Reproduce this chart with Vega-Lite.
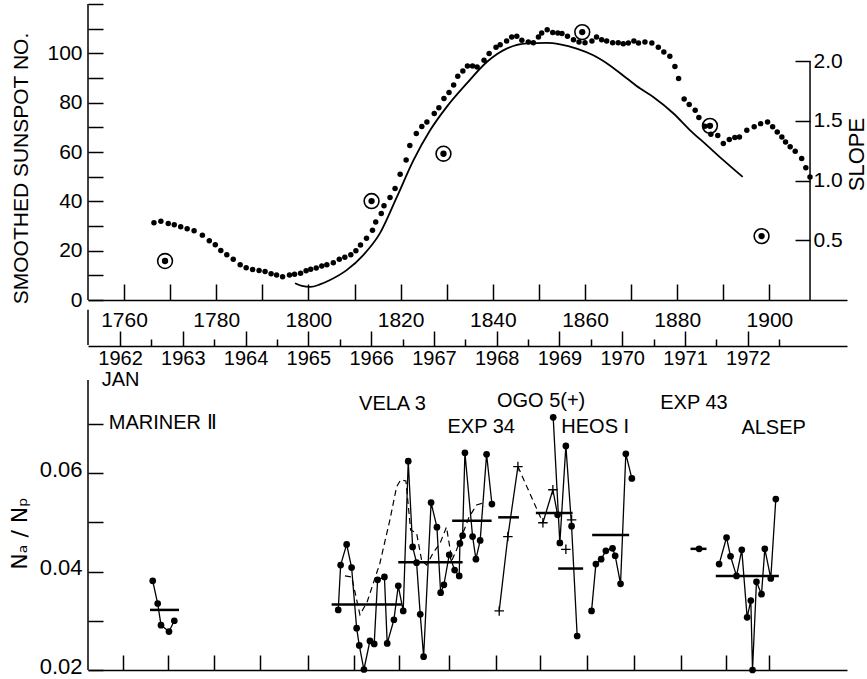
{
  "$schema": "https://vega.github.io/schema/vega-lite/v6.json",
  "width": 759,
  "height": 666,
  "autosize": {"type": "none"},
  "padding": {"left": 88, "top": 4, "right": 20, "bottom": 9},
  "background": "white",
  "datasets": {
    "spots": [
      {"yr":1766.5,"S":31.3},{"yr":1768.0,"S":31.9},{"yr":1769.6,"S":31.0},{"yr":1770.9,"S":30.5},{"yr":1772.3,"S":29.7},{"yr":1773.7,"S":28.9},{"yr":1775.2,"S":28.1},{"yr":1777.0,"S":26.3},{"yr":1778.5,"S":24.0},{"yr":1779.8,"S":22.4},{"yr":1781.0,"S":20.1},{"yr":1782.3,"S":18.3},{"yr":1783.7,"S":16.5},{"yr":1785.2,"S":14.3},{"yr":1786.5,"S":13.1},{"yr":1787.9,"S":12.4},{"yr":1789.3,"S":12.0},{"yr":1790.6,"S":11.6},{"yr":1791.9,"S":10.6},{"yr":1793.1,"S":10.1},{"yr":1794.4,"S":9.4},{"yr":1795.9,"S":10.1},{"yr":1797.0,"S":10.4},{"yr":1798.3,"S":10.8},{"yr":1799.5,"S":11.9},{"yr":1800.5,"S":12.5},{"yr":1801.7,"S":13.0},{"yr":1802.9,"S":13.8},{"yr":1804.0,"S":14.3},{"yr":1805.4,"S":15.1},{"yr":1806.7,"S":16.5},{"yr":1807.9,"S":17.3},{"yr":1809.2,"S":18.3},{"yr":1810.3,"S":20.0},{"yr":1811.3,"S":22.3},{"yr":1812.6,"S":25.0},{"yr":1813.9,"S":28.3},{"yr":1814.6,"S":31.6},{"yr":1815.8,"S":35.1},{"yr":1816.4,"S":38.2},{"yr":1817.7,"S":41.6},{"yr":1818.8,"S":45.2},{"yr":1819.9,"S":51.0},{"yr":1821.2,"S":56.8},{"yr":1822.0,"S":62.6},{"yr":1823.4,"S":67.5},{"yr":1824.6,"S":70.3},{"yr":1825.7,"S":72.2},{"yr":1827.3,"S":75.6},{"yr":1828.3,"S":77.9},{"yr":1829.4,"S":81.7},{"yr":1830.5,"S":84.1},{"yr":1831.5,"S":87.2},{"yr":1832.4,"S":90.7},{"yr":1833.5,"S":92.8},{"yr":1834.5,"S":94.9},{"yr":1835.6,"S":94.9},{"yr":1836.6,"S":94.5},{"yr":1838.1,"S":97.2},{"yr":1839.2,"S":99.9},{"yr":1840.7,"S":102.5},{"yr":1841.6,"S":103.5},{"yr":1843.0,"S":105.0},{"yr":1844.1,"S":106.6},{"yr":1845.2,"S":106.9},{"yr":1846.3,"S":105.3},{"yr":1847.7,"S":104.6},{"yr":1848.8,"S":104.3},{"yr":1849.9,"S":106.6},{"yr":1850.6,"S":108.2},{"yr":1851.8,"S":109.6},{"yr":1853.0,"S":108.4},{"yr":1854.1,"S":108.2},{"yr":1855.0,"S":108.0},{"yr":1856.2,"S":106.9},{"yr":1857.5,"S":105.5},{"yr":1858.7,"S":104.6},{"yr":1860.0,"S":104.3},{"yr":1861.5,"S":105.0},{"yr":1862.5,"S":106.6},{"yr":1863.6,"S":105.5},{"yr":1864.7,"S":105.0},{"yr":1866.0,"S":104.3},{"yr":1867.2,"S":104.3},{"yr":1868.3,"S":103.9},{"yr":1869.4,"S":104.2},{"yr":1870.6,"S":105.0},{"yr":1871.6,"S":104.2},{"yr":1873.0,"S":104.6},{"yr":1874.5,"S":104.2},{"yr":1875.9,"S":102.5},{"yr":1877.1,"S":100.5},{"yr":1878.4,"S":98.8},{"yr":1879.5,"S":94.7},{"yr":1880.3,"S":89.8},{"yr":1881.5,"S":81.5},{"yr":1882.6,"S":79.3},{"yr":1883.9,"S":76.9},{"yr":1884.7,"S":74.0},{"yr":1886.0,"S":70.4},{"yr":1887.3,"S":67.2},{"yr":1888.8,"S":66.7},{"yr":1890.0,"S":63.4},{"yr":1891.3,"S":65.1},{"yr":1892.5,"S":65.9},{"yr":1893.5,"S":66.1},{"yr":1895.1,"S":68.8},{"yr":1896.7,"S":70.2},{"yr":1898.1,"S":71.5},{"yr":1899.6,"S":72.2},{"yr":1900.7,"S":70.2},{"yr":1901.7,"S":68.1},{"yr":1902.7,"S":66.1},{"yr":1903.5,"S":64.1},{"yr":1904.5,"S":62.1},{"yr":1905.6,"S":60.3},{"yr":1907.0,"S":57.4},{"yr":1907.9,"S":53.6},{"yr":1908.8,"S":49.9}
    ],
    "curve": [
      {"yr":1797.1,"S":6.8},{"yr":1798.6,"S":5.7},{"yr":1800.4,"S":5.3},{"yr":1802.5,"S":6.3},{"yr":1804.7,"S":8.1},{"yr":1808.3,"S":12.1},{"yr":1811.9,"S":18.2},{"yr":1815.5,"S":27.0},{"yr":1819.2,"S":41.8},{"yr":1822.8,"S":56.7},{"yr":1826.4,"S":68.8},{"yr":1830.0,"S":78.3},{"yr":1834.3,"S":87.7},{"yr":1838.7,"S":96.5},{"yr":1843.0,"S":101.9},{"yr":1847.4,"S":104.0},{"yr":1851.7,"S":104.2},{"yr":1854.6,"S":103.6},{"yr":1858.2,"S":101.9},{"yr":1861.8,"S":99.2},{"yr":1865.4,"S":95.1},{"yr":1869.1,"S":89.8},{"yr":1871.9,"S":85.8},{"yr":1874.8,"S":82.3},{"yr":1879.2,"S":75.6},{"yr":1882.8,"S":68.8},{"yr":1886.4,"S":62.8},{"yr":1890.0,"S":56.7},{"yr":1894.2,"S":49.9}
    ],
    "circ": [
      {"yr":1768.9,"S":15.8},{"yr":1813.7,"S":40.1},{"yr":1829.3,"S":59.3},{"yr":1859.4,"S":108.6},{"yr":1887.1,"S":70.6},{"yr":1898.3,"S":25.9}
    ],
    "axA": [
      {"yr":1752.19,"S":0,"S2":120},{"yr":1752.19,"S":-4,"S2":-18.2}
    ],
    "pts": [
      {"t":1962.521,"v":0.0381,"s":"MAR","m":"d","k":1},{"t":1962.600,"v":0.0335,"s":"MAR","m":"d","k":2},{"t":1962.653,"v":0.0291,"s":"MAR","m":"d","k":3},{"t":1962.780,"v":0.0278,"s":"MAR","m":"d","k":4},{"t":1962.865,"v":0.0300,"s":"MAR","m":"d","k":5},
      {"t":1965.476,"v":0.0322,"s":"VE","m":"d","k":6},{"t":1965.514,"v":0.0413,"s":"VE","m":"d","k":7},{"t":1965.610,"v":0.0455,"s":"VE","m":"d","k":8},{"t":1965.689,"v":0.0408,"s":"VE","m":"d","k":9},{"t":1965.769,"v":0.0285,"s":"VE","m":"d","k":10},{"t":1965.811,"v":0.0250,"s":"VE","m":"d","k":11},{"t":1965.885,"v":0.0201,"s":"VE","m":"d","k":12},{"t":1965.981,"v":0.0259,"s":"VE","m":"d","k":13},{"t":1966.049,"v":0.0253,"s":"VE","m":"d","k":14},{"t":1966.103,"v":0.0383,"s":"VE","m":"d","k":15},{"t":1966.212,"v":0.0389,"s":"VE","m":"d","k":16},{"t":1966.256,"v":0.0254,"s":"VE","m":"d","k":17},{"t":1966.363,"v":0.0302,"s":"VE","m":"d","k":18},{"t":1966.432,"v":0.0371,"s":"VE","m":"d","k":19},{"t":1966.511,"v":0.0320,"s":"VE","m":"d","k":20},{"t":1966.591,"v":0.0624,"s":"VE","m":"d","k":21},{"t":1966.661,"v":0.0450,"s":"VE","m":"d","k":22},{"t":1966.724,"v":0.0418,"s":"VE","m":"d","k":23},{"t":1966.782,"v":0.0313,"s":"VE","m":"d","k":24},{"t":1966.836,"v":0.0227,"s":"VE","m":"d","k":25},{"t":1966.955,"v":0.0540,"s":"VE","m":"d","k":26},{"t":1967.048,"v":0.0490,"s":"VE","m":"d","k":27},{"t":1967.107,"v":0.0357,"s":"VE","m":"d","k":28},{"t":1967.159,"v":0.0373,"s":"VE","m":"d","k":29},{"t":1967.244,"v":0.0434,"s":"VE","m":"d","k":30},{"t":1967.330,"v":0.0403,"s":"VE","m":"d","k":31},{"t":1967.403,"v":0.0391,"s":"VE","m":"d","k":32},{"t":1967.414,"v":0.0457,"s":"VE","m":"d","k":33},{"t":1967.457,"v":0.0473,"s":"VE","m":"d","k":34},{"t":1967.494,"v":0.0641,"s":"VE","m":"d","k":35},{"t":1967.616,"v":0.0471,"s":"VE","m":"d","k":36},{"t":1967.669,"v":0.0425,"s":"VE","m":"d","k":37},{"t":1967.737,"v":0.0463,"s":"VE","m":"d","k":38},{"t":1967.839,"v":0.0638,"s":"VE","m":"d","k":39},{"t":1967.924,"v":0.0537,"s":"VE","m":"d","k":40},
      {"t":1968.040,"v":0.0320,"s":"OGa","m":"p","k":41},{"t":1968.178,"v":0.0471,"s":"OGa","m":"p","k":42},{"t":1968.338,"v":0.0613,"s":"OGa","m":"p","k":43},
      {"t":1968.736,"v":0.0499,"s":"OGb","m":"p","k":44},{"t":1968.895,"v":0.0566,"s":"OGb","m":"p","k":45},{"t":1968.970,"v":0.0515,"s":"OGb","m":"d","k":46},
      {"t":1969.102,"v":0.0445,"s":"o1","m":"p","k":47},{"t":1969.193,"v":0.0505,"s":"o2","m":"p","k":48},
      {"t":1968.900,"v":0.0713,"s":"HEa","m":"d","k":49},{"t":1969.006,"v":0.0458,"s":"HEa","m":"d","k":50},{"t":1969.102,"v":0.0655,"s":"HEa","m":"d","k":51},{"t":1969.193,"v":0.0492,"s":"HEa","m":"d","k":52},{"t":1969.282,"v":0.0269,"s":"HEa","m":"d","k":53},
      {"t":1969.511,"v":0.0320,"s":"HEb","m":"d","k":54},{"t":1969.580,"v":0.0415,"s":"HEb","m":"d","k":55},{"t":1969.664,"v":0.0425,"s":"HEb","m":"d","k":56},{"t":1969.739,"v":0.0442,"s":"HEb","m":"d","k":57},{"t":1969.845,"v":0.0447,"s":"HEb","m":"d","k":58},{"t":1969.887,"v":0.0432,"s":"HEb","m":"d","k":59},{"t":1969.973,"v":0.0375,"s":"HEb","m":"d","k":60},{"t":1970.057,"v":0.0639,"s":"HEb","m":"d","k":61},{"t":1970.153,"v":0.0589,"s":"HEb","m":"d","k":62},
      {"t":1971.224,"v":0.0446,"s":"E43","m":"d","k":63},
      {"t":1971.543,"v":0.0415,"s":"AL","m":"d","k":64},{"t":1971.661,"v":0.0469,"s":"AL","m":"d","k":65},{"t":1971.725,"v":0.0431,"s":"AL","m":"d","k":66},{"t":1971.820,"v":0.0391,"s":"AL","m":"d","k":67},{"t":1971.904,"v":0.0444,"s":"AL","m":"d","k":68},{"t":1971.989,"v":0.0307,"s":"AL","m":"d","k":69},{"t":1972.048,"v":0.0341,"s":"AL","m":"d","k":70},{"t":1972.075,"v":0.0200,"s":"AL","m":"d","k":71},{"t":1972.138,"v":0.0379,"s":"AL","m":"d","k":72},{"t":1972.218,"v":0.0354,"s":"AL","m":"d","k":73},{"t":1972.271,"v":0.0446,"s":"AL","m":"d","k":74},{"t":1972.366,"v":0.0386,"s":"AL","m":"d","k":75},{"t":1972.446,"v":0.0547,"s":"AL","m":"d","k":76}
    ],
    "dash": [
      {"t":1965.583,"v":0.0391,"s":"sm"},{"t":1965.690,"v":0.0389,"s":"sm"},{"t":1965.822,"v":0.0312,"s":"sm"},{"t":1965.938,"v":0.0339,"s":"sm"},{"t":1966.140,"v":0.0417,"s":"sm"},{"t":1966.299,"v":0.0505,"s":"sm"},{"t":1966.406,"v":0.0572,"s":"sm"},{"t":1966.470,"v":0.0586,"s":"sm"},{"t":1966.554,"v":0.0584,"s":"sm"},{"t":1966.629,"v":0.0484,"s":"sm"},{"t":1966.724,"v":0.0478,"s":"sm"},{"t":1966.804,"v":0.0423,"s":"sm"},{"t":1966.884,"v":0.0413,"s":"sm"},{"t":1966.989,"v":0.0438,"s":"sm"},{"t":1967.096,"v":0.0457,"s":"sm"},{"t":1967.200,"v":0.0490,"s":"sm"},{"t":1967.287,"v":0.0423,"s":"sm"},{"t":1967.361,"v":0.0444,"s":"sm"},{"t":1967.441,"v":0.0471,"s":"sm"},{"t":1967.562,"v":0.0511,"s":"sm"},{"t":1967.680,"v":0.0535,"s":"sm"},{"t":1967.760,"v":0.0538,"s":"sm"},{"t":1967.812,"v":0.0532,"s":"sm"},
      {"t":1968.338,"v":0.0613,"s":"og"},{"t":1968.736,"v":0.0499,"s":"og"}
    ],
    "means": [
      {"t":1962.478,"t2":1962.940,"v":0.0322},{"t":1965.371,"t2":1966.486,"v":0.0333},{"t":1966.432,"t2":1967.457,"v":0.0419},{"t":1967.291,"t2":1967.919,"v":0.0503},{"t":1968.024,"t2":1968.354,"v":0.0510},{"t":1968.624,"t2":1969.209,"v":0.0519},{"t":1968.979,"t2":1969.377,"v":0.0406},{"t":1969.521,"t2":1970.110,"v":0.0474},{"t":1971.088,"t2":1971.342,"v":0.0446},{"t":1971.490,"t2":1972.494,"v":0.0391}
    ],
    "labs": [
      {"t":1962.680,"v":0.0702,"txt":"MARINER Ⅱ"},{"t":1966.339,"v":0.0740,"txt":"VELA 3"},{"t":1967.753,"v":0.0694,"txt":"EXP 34"},{"t":1968.707,"v":0.0747,"txt":"OGO 5(+)"},{"t":1969.569,"v":0.0694,"txt":"HEOS I"},{"t":1971.143,"v":0.0743,"txt":"EXP 43"},{"t":1972.411,"v":0.0691,"txt":"ALSEP"}
    ],
    "axC": [
      {"t":1961.49,"v":0.02,"v2":0.07888}
    ],
    "slope": [
      {"yr":1908.81,"s":0,"s2":2.0}
    ],
    "one": [
      {"t":1962}
    ]
  },
  "layer": [
    {
      "encoding": {
        "x": {"field":"yr","type":"quantitative","scale":{"domain":[1752.19,1916.83],"nice":false,"zero":false},
          "axis":{"orient":"bottom","offset":-370,"values":[1760,1770,1780,1790,1800,1810,1820,1830,1840,1850,1860,1870,1880,1890,1900],"format":"d","labelExpr":"datum.value % 20 == 0 ? datum.label : ''","tickSize":-16,"labelPadding":25,"labelFont":"Liberation Sans","labelFontSize":21,"labelOverlap":false,"labelFlush":false,"title":null}},
        "y": {"field":"S","type":"quantitative","scale":{"domain":[-150,120],"nice":false,"zero":false},
          "axis":{"orient":"left","values":[0,10,20,30,40,50,60,70,80,90,100,110,120],"labelExpr":"datum.value % 20 == 0 && datum.value <= 100 ? datum.label : ''","tickSize":-15,"labelPadding":21,"domain":false,"labelFont":"Liberation Sans","labelFontSize":21,"labelOverlap":false,"labelFlush":false,
            "title":"SMOOTHED SUNSPOT NO.","titleFont":"Liberation Sans","titleFontSize":21,"titleFontWeight":"normal","titleX":-67,"titleY":164,"titleAngle":270,"titleBaseline":"middle","titleAlign":"center"}}
      },
      "layer": [
        {"data":{"name":"spots"},"mark":{"type":"point","filled":true,"color":"black","size":30,"opacity":1}},
        {"data":{"name":"curve"},"mark":{"type":"line","color":"black","strokeWidth":1.8,"interpolate":"monotone"}},
        {"data":{"name":"circ"},"mark":{"type":"point","filled":false,"color":"black","size":220,"strokeWidth":1.6,"opacity":1}},
        {"data":{"name":"circ"},"mark":{"type":"point","filled":true,"color":"black","size":40,"opacity":1}},
        {"data":{"name":"axA"},"mark":{"type":"rule","color":"black","strokeWidth":1.5},"encoding":{"y2":{"field":"S2"}}}
      ]
    },
    {
      "data":{"name":"slope"},
      "mark":{"type":"rule","color":"black","strokeWidth":1.5},
      "encoding":{
        "x":{"field":"yr","type":"quantitative","scale":{"domain":[1752.19,1916.83],"nice":false,"zero":false},"axis":null},
        "y":{"field":"s","type":"quantitative","scale":{"domain":[-3.096,2.477],"nice":false,"zero":false},
          "axis":{"orient":"right","offset":-37,"values":[0.5,1,1.5,2],"format":".1f","tickSize":-15,"labelPadding":18,"domain":false,"labelFont":"Liberation Sans","labelFontSize":21,"labelOverlap":false,"labelFlush":false,
            "title":"SLOPE","titleFont":"Liberation Sans","titleFontSize":22,"titleFontWeight":"normal","titleX":46,"titleY":150,"titleAngle":270,"titleBaseline":"middle","titleAlign":"center"}},
        "y2":{"field":"s2"}
      }
    },
    {
      "encoding": {
        "x": {"field":"t","type":"quantitative","scale":{"domain":[1961.49,1973.58],"nice":false,"zero":false},
          "axis":{"orient":"bottom","values":[1962.048,1962.764,1963.497,1964.229,1964.994,1965.726,1966.443,1967.239,1967.987,1968.688,1969.436,1970.185,1970.933,1971.650,1972.334],"labels":false,"tickSize":-15,"title":null}},
        "y": {"field":"v","type":"quantitative","scale":{"domain":[0.02,0.15523],"nice":false,"zero":false},
          "axis":{"orient":"left","values":[0.02,0.03,0.04,0.05,0.06,0.07],"format":".2f","labelExpr":"indexof(['0.02','0.04','0.06'], datum.label) >= 0 ? datum.label : ''","tickSize":-15,"labelPadding":21,"domain":false,"labelFont":"Liberation Sans","labelFontSize":22,"labelBaseline":"bottom","labelOffset":8,"labelOverlap":false,"labelFlush":false,
            "title":"Nₐ / Nₚ","titleFont":"DejaVu Sans","titleFontSize":22,"titleFontWeight":"normal","titleX":-69,"titleY":529,"titleAngle":270,"titleBaseline":"middle","titleAlign":"center"}}
      },
      "layer": [
        {"data":{"name":"axC"},"mark":{"type":"rule","color":"black","strokeWidth":1.5},"encoding":{"y2":{"field":"v2"}}},
        {"data":{"name":"means"},"mark":{"type":"rule","color":"black","strokeWidth":2.5},"encoding":{"x2":{"field":"t2"}}},
        {"data":{"name":"dash"},"mark":{"type":"line","color":"black","strokeWidth":1.2,"strokeDash":[6,4]},"encoding":{"detail":{"field":"s"}}},
        {"data":{"name":"pts"},"mark":{"type":"line","color":"black","strokeWidth":1.3},"encoding":{"detail":{"field":"s"},"order":{"field":"k","type":"quantitative"}}},
        {"data":{"name":"pts"},"transform":[{"filter":"datum.m == 'd'"}],"mark":{"type":"point","filled":true,"color":"black","size":45,"opacity":1}},
        {"data":{"name":"pts"},"transform":[{"filter":"datum.m == 'p'"}],"mark":{"type":"point","filled":false,"shape":"M-1,0H1M0,-1V1","color":"black","size":90,"strokeWidth":1.3,"opacity":1}},
        {"data":{"name":"labs"},"mark":{"type":"text","color":"black","font":"Liberation Sans","fontSize":20,"align":"center","baseline":"middle"},"encoding":{"text":{"field":"txt"}}}
      ]
    },
    {
      "data":{"name":"one"},
      "mark":{"type":"point","opacity":0},
      "encoding":{
        "x":{"field":"t","type":"quantitative","scale":{"domain":[1961.49,1973.58],"nice":false,"zero":false},
          "axis":{"orient":"bottom","offset":-324,"values":[1962,1963,1964,1965,1966,1967,1968,1969,1970,1971,1972],"format":"d","labelExpr":"datum.value == 1962 ? ['1962','JAN'] : datum.label","tickSize":-15,"labelPadding":17,"labelFont":"Liberation Sans","labelFontSize":20,"labelLineHeight":21,"labelOverlap":false,"labelFlush":false,"title":null}}
      }
    },
    {
      "data":{"name":"one"},
      "mark":{"type":"point","opacity":0},
      "encoding":{
        "x":{"field":"t","type":"quantitative","scale":{"domain":[1961.49,1973.58],"nice":false,"zero":false},
          "axis":{"orient":"bottom","offset":-324,"values":[1962.5,1963.5,1964.5,1965.5,1966.5,1967.5,1968.5,1969.5,1970.5,1971.5,1972.5],"labels":false,"domain":false,"tickSize":-7,"title":null}}
      }
    }
  ],
  "resolve": {
    "scale": {"x":"independent","y":"independent"},
    "axis": {"x":"independent","y":"independent"}
  },
  "config": {
    "view": {"stroke": null},
    "axis": {"grid": false, "domainColor":"black","tickColor":"black","labelColor":"black","titleColor":"black","domainWidth":1.5,"tickWidth":1.5}
  }
}
